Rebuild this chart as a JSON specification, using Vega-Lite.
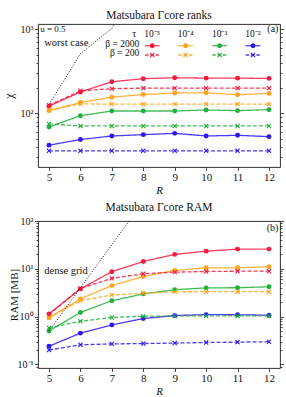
{
  "$schema": "https://vega.github.io/schema/vega-lite/v6.json",
  "padding": {"left": 1, "top": 9, "right": 3, "bottom": 3},
  "spacing": 5,
  "config": {
    "font": "Liberation Serif",
    "view": {"stroke": "#1a1a1a", "strokeWidth": 0.9},
    "axis": {"domain": false, "grid": false, "tickColor": "#1a1a1a", "tickWidth": 0.8, "labelColor": "#111", "titleColor": "#111", "labelFont": "Liberation Serif", "titleFont": "Liberation Serif", "titleFontWeight": "normal", "labelFontSize": 10, "titleFontSize": 11, "labelOverlap": false},
    "title": {"font": "Liberation Serif", "fontSize": 11.5, "fontWeight": "normal", "offset": 3, "color": "#111"},
    "text": {"font": "Liberation Serif", "color": "#111"}
  },
  "datasets": {
    "ranks": [
      {"R":5,"v":122,"s":"a1","b":"2000","t":"1e-5"},{"R":6,"v":180,"s":"a1","b":"2000","t":"1e-5"},{"R":7,"v":238,"s":"a1","b":"2000","t":"1e-5"},{"R":8,"v":259,"s":"a1","b":"2000","t":"1e-5"},{"R":9,"v":266,"s":"a1","b":"2000","t":"1e-5"},{"R":10,"v":263,"s":"a1","b":"2000","t":"1e-5"},{"R":11,"v":263,"s":"a1","b":"2000","t":"1e-5"},{"R":12,"v":261,"s":"a1","b":"2000","t":"1e-5"},
      {"R":5,"v":108,"s":"a2","b":"2000","t":"1e-4"},{"R":6,"v":135,"s":"a2","b":"2000","t":"1e-4"},{"R":7,"v":156,"s":"a2","b":"2000","t":"1e-4"},{"R":8,"v":168,"s":"a2","b":"2000","t":"1e-4"},{"R":9,"v":175,"s":"a2","b":"2000","t":"1e-4"},{"R":10,"v":176,"s":"a2","b":"2000","t":"1e-4"},{"R":11,"v":167,"s":"a2","b":"2000","t":"1e-4"},{"R":12,"v":173,"s":"a2","b":"2000","t":"1e-4"},
      {"R":5,"v":69,"s":"a3","b":"2000","t":"1e-3"},{"R":6,"v":94,"s":"a3","b":"2000","t":"1e-3"},{"R":7,"v":107,"s":"a3","b":"2000","t":"1e-3"},{"R":8,"v":107,"s":"a3","b":"2000","t":"1e-3"},{"R":9,"v":107,"s":"a3","b":"2000","t":"1e-3"},{"R":10,"v":110,"s":"a3","b":"2000","t":"1e-3"},{"R":11,"v":108,"s":"a3","b":"2000","t":"1e-3"},{"R":12,"v":111,"s":"a3","b":"2000","t":"1e-3"},
      {"R":5,"v":42,"s":"a4","b":"2000","t":"1e-2"},{"R":6,"v":49,"s":"a4","b":"2000","t":"1e-2"},{"R":7,"v":54,"s":"a4","b":"2000","t":"1e-2"},{"R":8,"v":56,"s":"a4","b":"2000","t":"1e-2"},{"R":9,"v":58,"s":"a4","b":"2000","t":"1e-2"},{"R":10,"v":54,"s":"a4","b":"2000","t":"1e-2"},{"R":11,"v":55,"s":"a4","b":"2000","t":"1e-2"},{"R":12,"v":53,"s":"a4","b":"2000","t":"1e-2"},
      {"R":5,"v":125,"s":"b1","b":"200","t":"1e-5"},{"R":6,"v":186,"s":"b1","b":"200","t":"1e-5"},{"R":7,"v":197,"s":"b1","b":"200","t":"1e-5"},{"R":8,"v":200,"s":"b1","b":"200","t":"1e-5"},{"R":9,"v":200,"s":"b1","b":"200","t":"1e-5"},{"R":10,"v":200,"s":"b1","b":"200","t":"1e-5"},{"R":11,"v":200,"s":"b1","b":"200","t":"1e-5"},{"R":12,"v":200,"s":"b1","b":"200","t":"1e-5"},
      {"R":5,"v":110,"s":"b2","b":"200","t":"1e-4"},{"R":6,"v":130,"s":"b2","b":"200","t":"1e-4"},{"R":7,"v":129,"s":"b2","b":"200","t":"1e-4"},{"R":8,"v":129,"s":"b2","b":"200","t":"1e-4"},{"R":9,"v":129,"s":"b2","b":"200","t":"1e-4"},{"R":10,"v":129,"s":"b2","b":"200","t":"1e-4"},{"R":11,"v":129,"s":"b2","b":"200","t":"1e-4"},{"R":12,"v":129,"s":"b2","b":"200","t":"1e-4"},
      {"R":5,"v":75,"s":"b3","b":"200","t":"1e-3"},{"R":6,"v":71,"s":"b3","b":"200","t":"1e-3"},{"R":7,"v":71,"s":"b3","b":"200","t":"1e-3"},{"R":8,"v":71,"s":"b3","b":"200","t":"1e-3"},{"R":9,"v":71,"s":"b3","b":"200","t":"1e-3"},{"R":10,"v":71,"s":"b3","b":"200","t":"1e-3"},{"R":11,"v":71,"s":"b3","b":"200","t":"1e-3"},{"R":12,"v":71,"s":"b3","b":"200","t":"1e-3"},
      {"R":5,"v":36,"s":"b4","b":"200","t":"1e-2"},{"R":6,"v":36,"s":"b4","b":"200","t":"1e-2"},{"R":7,"v":36,"s":"b4","b":"200","t":"1e-2"},{"R":8,"v":36,"s":"b4","b":"200","t":"1e-2"},{"R":9,"v":36,"s":"b4","b":"200","t":"1e-2"},{"R":10,"v":36,"s":"b4","b":"200","t":"1e-2"},{"R":11,"v":36,"s":"b4","b":"200","t":"1e-2"},{"R":12,"v":36,"s":"b4","b":"200","t":"1e-2"}
    ],
    "ram": [
      {"R":5,"v":1.14,"s":"a1","b":"2000","t":"1e-5"},{"R":6,"v":3.8,"s":"a1","b":"2000","t":"1e-5"},{"R":7,"v":8.7,"s":"a1","b":"2000","t":"1e-5"},{"R":8,"v":14.2,"s":"a1","b":"2000","t":"1e-5"},{"R":9,"v":20,"s":"a1","b":"2000","t":"1e-5"},{"R":10,"v":23.4,"s":"a1","b":"2000","t":"1e-5"},{"R":11,"v":25.8,"s":"a1","b":"2000","t":"1e-5"},{"R":12,"v":25.8,"s":"a1","b":"2000","t":"1e-5"},
      {"R":5,"v":0.95,"s":"a2","b":"2000","t":"1e-4"},{"R":6,"v":2.35,"s":"a2","b":"2000","t":"1e-4"},{"R":7,"v":4.45,"s":"a2","b":"2000","t":"1e-4"},{"R":8,"v":6.9,"s":"a2","b":"2000","t":"1e-4"},{"R":9,"v":9.2,"s":"a2","b":"2000","t":"1e-4"},{"R":10,"v":10.5,"s":"a2","b":"2000","t":"1e-4"},{"R":11,"v":10.5,"s":"a2","b":"2000","t":"1e-4"},{"R":12,"v":11.1,"s":"a2","b":"2000","t":"1e-4"},
      {"R":5,"v":0.5,"s":"a3","b":"2000","t":"1e-3"},{"R":6,"v":1.22,"s":"a3","b":"2000","t":"1e-3"},{"R":7,"v":2.15,"s":"a3","b":"2000","t":"1e-3"},{"R":8,"v":2.98,"s":"a3","b":"2000","t":"1e-3"},{"R":9,"v":3.66,"s":"a3","b":"2000","t":"1e-3"},{"R":10,"v":3.98,"s":"a3","b":"2000","t":"1e-3"},{"R":11,"v":4.02,"s":"a3","b":"2000","t":"1e-3"},{"R":12,"v":4.2,"s":"a3","b":"2000","t":"1e-3"},
      {"R":5,"v":0.24,"s":"a4","b":"2000","t":"1e-2"},{"R":6,"v":0.45,"s":"a4","b":"2000","t":"1e-2"},{"R":7,"v":0.67,"s":"a4","b":"2000","t":"1e-2"},{"R":8,"v":0.91,"s":"a4","b":"2000","t":"1e-2"},{"R":9,"v":1.05,"s":"a4","b":"2000","t":"1e-2"},{"R":10,"v":1.1,"s":"a4","b":"2000","t":"1e-2"},{"R":11,"v":1.09,"s":"a4","b":"2000","t":"1e-2"},{"R":12,"v":1.07,"s":"a4","b":"2000","t":"1e-2"},
      {"R":5,"v":1.1,"s":"b1","b":"200","t":"1e-5"},{"R":6,"v":3.9,"s":"b1","b":"200","t":"1e-5"},{"R":7,"v":6.3,"s":"b1","b":"200","t":"1e-5"},{"R":8,"v":7.9,"s":"b1","b":"200","t":"1e-5"},{"R":9,"v":8.5,"s":"b1","b":"200","t":"1e-5"},{"R":10,"v":8.8,"s":"b1","b":"200","t":"1e-5"},{"R":11,"v":8.9,"s":"b1","b":"200","t":"1e-5"},{"R":12,"v":8.9,"s":"b1","b":"200","t":"1e-5"},
      {"R":5,"v":0.95,"s":"b2","b":"200","t":"1e-4"},{"R":6,"v":2.15,"s":"b2","b":"200","t":"1e-4"},{"R":7,"v":2.83,"s":"b2","b":"200","t":"1e-4"},{"R":8,"v":3.07,"s":"b2","b":"200","t":"1e-4"},{"R":9,"v":3.3,"s":"b2","b":"200","t":"1e-4"},{"R":10,"v":3.32,"s":"b2","b":"200","t":"1e-4"},{"R":11,"v":3.32,"s":"b2","b":"200","t":"1e-4"},{"R":12,"v":3.32,"s":"b2","b":"200","t":"1e-4"},
      {"R":5,"v":0.58,"s":"b3","b":"200","t":"1e-3"},{"R":6,"v":0.8,"s":"b3","b":"200","t":"1e-3"},{"R":7,"v":0.96,"s":"b3","b":"200","t":"1e-3"},{"R":8,"v":1.02,"s":"b3","b":"200","t":"1e-3"},{"R":9,"v":1.03,"s":"b3","b":"200","t":"1e-3"},{"R":10,"v":1.03,"s":"b3","b":"200","t":"1e-3"},{"R":11,"v":1.03,"s":"b3","b":"200","t":"1e-3"},{"R":12,"v":1.03,"s":"b3","b":"200","t":"1e-3"},
      {"R":5,"v":0.2,"s":"b4","b":"200","t":"1e-2"},{"R":6,"v":0.257,"s":"b4","b":"200","t":"1e-2"},{"R":7,"v":0.268,"s":"b4","b":"200","t":"1e-2"},{"R":8,"v":0.273,"s":"b4","b":"200","t":"1e-2"},{"R":9,"v":0.279,"s":"b4","b":"200","t":"1e-2"},{"R":10,"v":0.287,"s":"b4","b":"200","t":"1e-2"},{"R":11,"v":0.292,"s":"b4","b":"200","t":"1e-2"},{"R":12,"v":0.298,"s":"b4","b":"200","t":"1e-2"}
    ],
    "worst": [{"R":5,"v":128},{"R":6,"v":512},{"R":7,"v":1024},{"R":8,"v":4096}],
    "dense": [{"R":5,"v":0.5},{"R":6,"v":4},{"R":7,"v":32},{"R":8,"v":256}],
    "one": [{"k": 1}]
  },
  "resolve": {"scale": {"color": "independent", "shape": "independent", "strokeDash": "independent", "y": "independent", "x": "independent"}},
  "vconcat": [
    {
      "width": 242, "height": 143,
      "data": {"name": "ranks"},
      "title": {"text": "Matsubara Γcore ranks"},
      "resolve": {"axis": {"x": "independent", "y": "independent"}},
      "layer": [
        {
          "mark": {"type": "line", "strokeWidth": 1.3, "opacity": 0.85},
          "encoding": {
            "x": {"field": "R", "type": "quantitative", "scale": {"domain": [4.65, 12.35], "nice": false, "zero": false},
                  "axis": {"values": [5,6,7,8,9,10,11,12], "labelOverlap": false, "labelFontSize": 11, "tickSize": 3.5, "labelPadding": 1, "title": "R", "titleFontStyle": "italic", "titleFontSize": 11, "titlePadding": 2}},
            "y": {"field": "v", "type": "quantitative", "scale": {"type": "log", "domain": [23.1, 1157], "nice": false},
                  "axis": {"values": [30,40,50,60,70,80,90,100,200,300,400,500,600,700,800,900,1000], "labelExpr": "datum.value==100 ? '10²' : datum.value==1000 ? '10³' : ''", "tickSize": {"condition": {"test": "datum.value==100 || datum.value==1000", "value": 3.5}, "value": 2}, "labelPadding": 1.5, "title": "χ", "titleFontSize": 12, "titlePadding": 5}},
            "color": {"field": "s", "type": "nominal", "legend": null,
                      "scale": {"domain": ["a1","a2","a3","a4","b1","b2","b3","b4"], "range": ["#f5193f","#ffa41b","#1fb03a","#2b17f7","#f5193f","#ffa41b","#1fb03a","#2b17f7"]}},
            "strokeDash": {"field": "b", "type": "nominal", "scale": {"domain": ["2000","200"], "range": [[1,0],[4,2]]}, "legend": null}
          }
        },
        {
          "mark": {"type": "point", "filled": true, "size": 24, "opacity": 1, "strokeWidth": 0},
          "encoding": {
            "x": {"field": "R", "type": "quantitative", "axis": null},
            "y": {"field": "v", "type": "quantitative", "axis": null},
            "color": {"field": "s", "type": "nominal", "legend": null},
            "shape": {"field": "b", "type": "nominal", "legend": null, "scale": {"domain": ["2000","200"], "range": ["circle", "M-1,-0.68L-0.68,-1L0,-0.32L0.68,-1L1,-0.68L0.32,0L1,0.68L0.68,1L0,0.32L-0.68,1L-1,0.68L-0.32,0Z"]}}
          }
        },
        {
          "data": {"name": "worst"},
          "mark": {"type": "line", "color": "#111", "strokeWidth": 1, "strokeDash": [1, 1.7], "clip": true},
          "encoding": {
            "x": {"field": "R", "type": "quantitative", "axis": null},
            "y": {"field": "v", "type": "quantitative",
                  "axis": {"orient": "right", "values": [30,40,50,60,70,80,90,100,200,300,400,500,600,700,800,900,1000], "labels": false, "title": null, "tickSize": {"condition": {"test": "datum.value==100 || datum.value==1000", "value": 3.5}, "value": 2}}}
          }
        },
        {"data": {"values": [{"txt": "u = 0.5"}]}, "mark": {"type": "text", "align": "left", "baseline": "middle", "fontSize": 9},
         "encoding": {"x": {"datum": 4.72, "type": "quantitative", "axis": null}, "y": {"datum": 1009, "type": "quantitative", "axis": null}, "text": {"field": "txt"}}},
        {"data": {"values": [{"txt": "worst case"}]}, "mark": {"type": "text", "align": "left", "baseline": "middle", "fontSize": 10.5},
         "encoding": {"x": {"datum": 4.85, "type": "quantitative", "axis": null}, "y": {"datum": 682, "type": "quantitative", "axis": null}, "text": {"field": "txt"}}},
        {"data": {"values": [{"txt": "(a)"}]}, "mark": {"type": "text", "align": "right", "baseline": "middle", "fontSize": 10},
         "encoding": {"x": {"datum": 12.3, "type": "quantitative", "axis": null}, "y": {"datum": 1009, "type": "quantitative", "axis": null}, "text": {"field": "txt"}}},
        {"data": {"values": [{"txt": "τ"}]}, "mark": {"type": "text", "align": "center", "baseline": "middle", "fontSize": 10},
         "encoding": {"x": {"datum": 7.714, "type": "quantitative", "axis": null}, "y": {"datum": 879, "type": "quantitative", "axis": null}, "text": {"field": "txt"}}},
        {"data": {"values": [{"txt": "10⁻⁵"}]}, "mark": {"type": "text", "align": "center", "baseline": "middle", "fontSize": 9.5},
         "encoding": {"x": {"datum": 8.286, "type": "quantitative", "axis": null}, "y": {"datum": 879, "type": "quantitative", "axis": null}, "text": {"field": "txt"}}},
        {"data": {"values": [{"txt": "10⁻⁴"}]}, "mark": {"type": "text", "align": "center", "baseline": "middle", "fontSize": 9.5},
         "encoding": {"x": {"datum": 9.346, "type": "quantitative", "axis": null}, "y": {"datum": 879, "type": "quantitative", "axis": null}, "text": {"field": "txt"}}},
        {"data": {"values": [{"txt": "10⁻³"}]}, "mark": {"type": "text", "align": "center", "baseline": "middle", "fontSize": 9.5},
         "encoding": {"x": {"datum": 10.428, "type": "quantitative", "axis": null}, "y": {"datum": 879, "type": "quantitative", "axis": null}, "text": {"field": "txt"}}},
        {"data": {"values": [{"txt": "10⁻²"}]}, "mark": {"type": "text", "align": "center", "baseline": "middle", "fontSize": 9.5},
         "encoding": {"x": {"datum": 11.491, "type": "quantitative", "axis": null}, "y": {"datum": 879, "type": "quantitative", "axis": null}, "text": {"field": "txt"}}},
        {"data": {"values": [{"txt": "β = 2000"}]}, "mark": {"type": "text", "align": "right", "baseline": "middle", "fontSize": 9.5},
         "encoding": {"x": {"datum": 7.873, "type": "quantitative", "axis": null}, "y": {"datum": 669, "type": "quantitative", "axis": null}, "text": {"field": "txt"}}},
        {"data": {"values": [{"txt": "β = 200"}]}, "mark": {"type": "text", "align": "right", "baseline": "middle", "fontSize": 9.5},
         "encoding": {"x": {"datum": 7.873, "type": "quantitative", "axis": null}, "y": {"datum": 523, "type": "quantitative", "axis": null}, "text": {"field": "txt"}}},
        {"data": {"name": "one"}, "mark": {"type": "rule", "color": "#f5193f", "strokeWidth": 1.3, "opacity": 0.85},
         "encoding": {"x": {"datum": 8.054, "type": "quantitative", "axis": null}, "x2": {"datum": 8.518}, "y": {"datum": 638, "type": "quantitative", "axis": null}}},
        {"data": {"name": "one"}, "mark": {"type": "rule", "color": "#ffa41b", "strokeWidth": 1.3, "opacity": 0.85},
         "encoding": {"x": {"datum": 9.114, "type": "quantitative", "axis": null}, "x2": {"datum": 9.578}, "y": {"datum": 638, "type": "quantitative", "axis": null}}},
        {"data": {"name": "one"}, "mark": {"type": "rule", "color": "#1fb03a", "strokeWidth": 1.3, "opacity": 0.85},
         "encoding": {"x": {"datum": 10.196, "type": "quantitative", "axis": null}, "x2": {"datum": 10.66}, "y": {"datum": 638, "type": "quantitative", "axis": null}}},
        {"data": {"name": "one"}, "mark": {"type": "rule", "color": "#2b17f7", "strokeWidth": 1.3, "opacity": 0.85},
         "encoding": {"x": {"datum": 11.259, "type": "quantitative", "axis": null}, "x2": {"datum": 11.723}, "y": {"datum": 638, "type": "quantitative", "axis": null}}},
        {"data": {"name": "one"}, "mark": {"type": "rule", "color": "#f5193f", "strokeWidth": 1.3, "opacity": 0.85, "strokeDash": [3.5, 1.8]},
         "encoding": {"x": {"datum": 8.054, "type": "quantitative", "axis": null}, "x2": {"datum": 8.518}, "y": {"datum": 495, "type": "quantitative", "axis": null}}},
        {"data": {"name": "one"}, "mark": {"type": "rule", "color": "#ffa41b", "strokeWidth": 1.3, "opacity": 0.85, "strokeDash": [3.5, 1.8]},
         "encoding": {"x": {"datum": 9.114, "type": "quantitative", "axis": null}, "x2": {"datum": 9.578}, "y": {"datum": 495, "type": "quantitative", "axis": null}}},
        {"data": {"name": "one"}, "mark": {"type": "rule", "color": "#1fb03a", "strokeWidth": 1.3, "opacity": 0.85, "strokeDash": [3.5, 1.8]},
         "encoding": {"x": {"datum": 10.196, "type": "quantitative", "axis": null}, "x2": {"datum": 10.66}, "y": {"datum": 495, "type": "quantitative", "axis": null}}},
        {"data": {"name": "one"}, "mark": {"type": "rule", "color": "#2b17f7", "strokeWidth": 1.3, "opacity": 0.85, "strokeDash": [3.5, 1.8]},
         "encoding": {"x": {"datum": 11.259, "type": "quantitative", "axis": null}, "x2": {"datum": 11.723}, "y": {"datum": 495, "type": "quantitative", "axis": null}}},
        {"data": {"name": "one"}, "mark": {"type": "point", "filled": true, "size": 24, "opacity": 1, "strokeWidth": 0, "shape": "circle", "color": "#f5193f"},
         "encoding": {"x": {"datum": 8.286, "type": "quantitative", "axis": null}, "y": {"datum": 638, "type": "quantitative", "axis": null}}},
        {"data": {"name": "one"}, "mark": {"type": "point", "filled": true, "size": 24, "opacity": 1, "strokeWidth": 0, "shape": "circle", "color": "#ffa41b"},
         "encoding": {"x": {"datum": 9.346, "type": "quantitative", "axis": null}, "y": {"datum": 638, "type": "quantitative", "axis": null}}},
        {"data": {"name": "one"}, "mark": {"type": "point", "filled": true, "size": 24, "opacity": 1, "strokeWidth": 0, "shape": "circle", "color": "#1fb03a"},
         "encoding": {"x": {"datum": 10.428, "type": "quantitative", "axis": null}, "y": {"datum": 638, "type": "quantitative", "axis": null}}},
        {"data": {"name": "one"}, "mark": {"type": "point", "filled": true, "size": 24, "opacity": 1, "strokeWidth": 0, "shape": "circle", "color": "#2b17f7"},
         "encoding": {"x": {"datum": 11.491, "type": "quantitative", "axis": null}, "y": {"datum": 638, "type": "quantitative", "axis": null}}},
        {"data": {"name": "one"}, "mark": {"type": "point", "filled": true, "size": 24, "opacity": 1, "strokeWidth": 0, "shape": "M-1,-0.68L-0.68,-1L0,-0.32L0.68,-1L1,-0.68L0.32,0L1,0.68L0.68,1L0,0.32L-0.68,1L-1,0.68L-0.32,0Z", "color": "#f5193f"},
         "encoding": {"x": {"datum": 8.286, "type": "quantitative", "axis": null}, "y": {"datum": 495, "type": "quantitative", "axis": null}}},
        {"data": {"name": "one"}, "mark": {"type": "point", "filled": true, "size": 24, "opacity": 1, "strokeWidth": 0, "shape": "M-1,-0.68L-0.68,-1L0,-0.32L0.68,-1L1,-0.68L0.32,0L1,0.68L0.68,1L0,0.32L-0.68,1L-1,0.68L-0.32,0Z", "color": "#ffa41b"},
         "encoding": {"x": {"datum": 9.346, "type": "quantitative", "axis": null}, "y": {"datum": 495, "type": "quantitative", "axis": null}}},
        {"data": {"name": "one"}, "mark": {"type": "point", "filled": true, "size": 24, "opacity": 1, "strokeWidth": 0, "shape": "M-1,-0.68L-0.68,-1L0,-0.32L0.68,-1L1,-0.68L0.32,0L1,0.68L0.68,1L0,0.32L-0.68,1L-1,0.68L-0.32,0Z", "color": "#1fb03a"},
         "encoding": {"x": {"datum": 10.428, "type": "quantitative", "axis": null}, "y": {"datum": 495, "type": "quantitative", "axis": null}}},
        {"data": {"name": "one"}, "mark": {"type": "point", "filled": true, "size": 24, "opacity": 1, "strokeWidth": 0, "shape": "M-1,-0.68L-0.68,-1L0,-0.32L0.68,-1L1,-0.68L0.32,0L1,0.68L0.68,1L0,0.32L-0.68,1L-1,0.68L-0.32,0Z", "color": "#2b17f7"},
         "encoding": {"x": {"datum": 11.491, "type": "quantitative", "axis": null}, "y": {"datum": 495, "type": "quantitative", "axis": null}}}
      ]
    },
    {
      "width": 242, "height": 147,
      "data": {"name": "ram"},
      "title": {"text": "Matsubara Γcore RAM"},
      "resolve": {"axis": {"x": "independent", "y": "independent"}},
      "layer": [
        {
          "mark": {"type": "line", "strokeWidth": 1.3, "opacity": 0.85},
          "encoding": {
            "x": {"field": "R", "type": "quantitative", "scale": {"domain": [4.65, 12.35], "nice": false, "zero": false},
                  "axis": {"values": [5,6,7,8,9,10,11,12], "labelOverlap": false, "labelFontSize": 11, "tickSize": 3.5, "labelPadding": 1, "title": "R", "titleFontStyle": "italic", "titleFontSize": 11, "titlePadding": 2}},
            "y": {"field": "v", "type": "quantitative", "scale": {"type": "log", "domain": [0.084, 100], "nice": false},
                  "axis": {"values": [0.09,0.1,0.2,0.3,0.4,0.5,0.6,0.7,0.8,0.9,1,2,3,4,5,6,7,8,9,10,20,30,40,50,60,70,80,90,100], "labelExpr": "datum.value==0.1 ? '10⁻¹' : datum.value==1 ? '10⁰' : datum.value==10 ? '10¹' : datum.value==100 ? '10²' : ''", "tickSize": {"condition": {"test": "datum.value==0.1 || datum.value==1 || datum.value==10 || datum.value==100", "value": 3.5}, "value": 2}, "labelPadding": 1.5, "title": "RAM [MB]", "titleFontSize": 11, "titlePadding": -2}},
            "color": {"field": "s", "type": "nominal", "legend": null,
                      "scale": {"domain": ["a1","a2","a3","a4","b1","b2","b3","b4"], "range": ["#f5193f","#ffa41b","#1fb03a","#2b17f7","#f5193f","#ffa41b","#1fb03a","#2b17f7"]}},
            "strokeDash": {"field": "b", "type": "nominal", "scale": {"domain": ["2000","200"], "range": [[1,0],[4,2]]}, "legend": null}
          }
        },
        {
          "mark": {"type": "point", "filled": true, "size": 24, "opacity": 1, "strokeWidth": 0},
          "encoding": {
            "x": {"field": "R", "type": "quantitative", "axis": null},
            "y": {"field": "v", "type": "quantitative", "axis": null},
            "color": {"field": "s", "type": "nominal", "legend": null},
            "shape": {"field": "b", "type": "nominal", "legend": null, "scale": {"domain": ["2000","200"], "range": ["circle", "M-1,-0.68L-0.68,-1L0,-0.32L0.68,-1L1,-0.68L0.32,0L1,0.68L0.68,1L0,0.32L-0.68,1L-1,0.68L-0.32,0Z"]}}
          }
        },
        {
          "data": {"name": "dense"},
          "mark": {"type": "line", "color": "#111", "strokeWidth": 1, "strokeDash": [1, 1.7], "clip": true},
          "encoding": {
            "x": {"field": "R", "type": "quantitative", "axis": null},
            "y": {"field": "v", "type": "quantitative",
                  "axis": {"orient": "right", "values": [0.09,0.1,0.2,0.3,0.4,0.5,0.6,0.7,0.8,0.9,1,2,3,4,5,6,7,8,9,10,20,30,40,50,60,70,80,90,100], "labels": false, "title": null, "tickSize": {"condition": {"test": "datum.value==0.1 || datum.value==1 || datum.value==10 || datum.value==100", "value": 3.5}, "value": 2}}}
          }
        },
        {"data": {"values": [{"txt": "dense grid"}]}, "mark": {"type": "text", "align": "left", "baseline": "middle", "fontSize": 10.5},
         "encoding": {"x": {"datum": 4.85, "type": "quantitative", "axis": null}, "y": {"datum": 8.9, "type": "quantitative", "axis": null}, "text": {"field": "txt"}}},
        {"data": {"values": [{"txt": "(b)"}]}, "mark": {"type": "text", "align": "right", "baseline": "middle", "fontSize": 10},
         "encoding": {"x": {"datum": 12.3, "type": "quantitative", "axis": null}, "y": {"datum": 71, "type": "quantitative", "axis": null}, "text": {"field": "txt"}}}
      ]
    }
  ]
}
